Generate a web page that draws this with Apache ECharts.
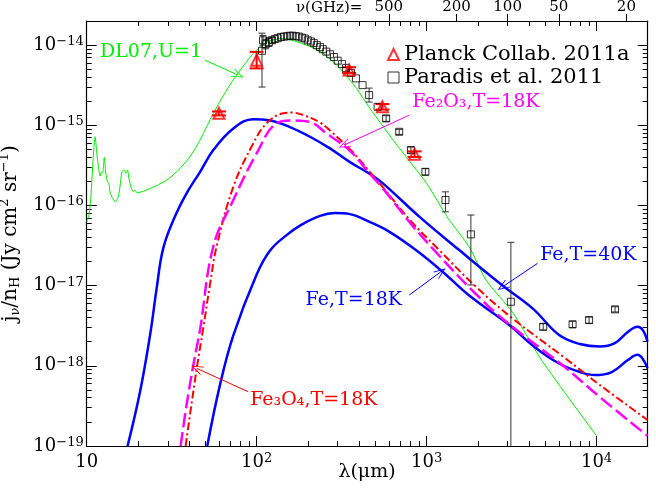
<!DOCTYPE html>
<html><head><meta charset="utf-8">
<script src="https://cdn.jsdelivr.net/npm/echarts@6/dist/echarts.min.js"></script>
<style>html,body{margin:0;padding:0;background:#fff}#c{width:656px;height:491px}</style>
</head><body><div id="c"></div>
<script>
// ---------------- data (λ in μm, jν/nH in Jy cm2 sr-1) ----------------
const lamDL07 = [10,10.3,10.6,10.9,11.2,11.5,11.8,12.0,12.2,12.4,12.7,12.9,13.2,13.5,13.7,14.1,14.7,15.3,15.7,16.1,16.6,17.0,17.4,17.7,18.2,18.8,19.2,19.8,23.6,29.6,35.4,40.5,46.4,55.6,66.6,76.2,95.5,114.5,141,197,247,309,387,464,636,798,1000,1340,1782,2241,3232,4745,10000];
const jDL07 = [6.27e-17,7.59e-17,1.35e-16,3.68e-16,7.2e-16,4.25e-16,2.76e-16,2.33e-16,2.61e-16,2.53e-16,3.98e-16,2.76e-16,2.01e-16,1.90e-16,1.48e-16,1.27e-16,1.11e-16,1.27e-16,1.71e-16,2.61e-16,2.76e-16,2.53e-16,2.76e-16,2.2e-16,1.71e-16,1.48e-16,1.56e-16,1.44e-16,1.63e-16,2.07e-16,2.90e-16,4.05e-16,6.53e-16,1.41e-15,2.75e-15,4.23e-15,7.87e-15,1.09e-14,1.21e-14,1.0e-14,7.87e-15,5.13e-15,2.88e-15,1.63e-15,6.53e-16,3.51e-16,1.89e-16,6.9e-17,3.03e-17,1.17e-17,4.52e-18,1.18e-18,1.34e-19];

const lamFe40 = [17.4,20.6,23.6,25.8,28.2,33.0,38.7,46.4,55.6,72.9,95.5,120,157,206,270,354,459,551,913,1556,2822,4203,6026,7980,10450,12810,15280,17420,18720,19950];
const jFe40 = [1.0e-19,4.75e-19,2.42e-18,9.25e-18,2.92e-17,7.23e-17,1.42e-16,2.61e-16,4.91e-16,9.14e-16,1.19e-15,1.15e-15,9.5e-16,7.2e-16,5.15e-16,3.47e-16,2.51e-16,1.9e-16,7.16e-17,2.78e-17,9.9e-18,5.21e-18,2.42e-18,1.87e-18,1.74e-18,1.92e-18,2.64e-18,3.07e-18,2.79e-18,2.0e-18];

const lamFe18 = [51.2,60.8,72.9,100,120,150,180,236,289,354,459,608,865,1242,1798,3063,4335,6026,7980,9770,12300,15280,17420,18720,19950];
const jFe18 = [1e-19,5.75e-19,2.4e-18,1.38e-17,2.75e-17,4.27e-17,5.62e-17,7.41e-17,8.04e-17,7.8e-17,6.27e-17,4.66e-17,2.78e-17,1.49e-17,7.41e-18,3.23e-18,1.71e-18,1.07e-18,8.37e-19,7.67e-19,8.37e-19,1.18e-18,1.37e-18,1.22e-18,9.3e-19];

const lamFe3O4 = [38.2,44.4,48.5,53.1,58.2,72.9,95.5,114.5,143,161,192,236,270,354,459,551,798,1186,1923,3206,6370,10450,19950];
const jFe3O4 = [1e-19,9.3e-19,2.94e-18,1.02e-17,3.12e-17,1.71e-16,5.94e-16,1.06e-15,1.41e-15,1.44e-15,1.32e-15,1.08e-15,8.6e-16,5.05e-16,2.69e-16,1.71e-16,6.58e-17,2.78e-17,1.0e-17,3.9e-18,1.30e-18,5.77e-19,2.11e-19];

const lamFe2O3 = [35.7,38.7,42.5,46.4,55.6,72.9,100,131,161,206,256,354,459,551,798,1135,1923,2955,6370,10450,19950];
const jFe2O3 = [1e-19,3.24e-19,1.05e-18,2.79e-18,3.08e-17,1.17e-16,4.47e-16,1.06e-15,1.15e-15,1.10e-15,8.0e-16,4.8e-16,2.54e-16,1.65e-16,6.12e-17,2.62e-17,8.1e-18,3.52e-18,1.0e-18,4.08e-19,1.34e-19];

const lamPlanck = [60,100,350,550,850];
const jPlanck = [1.41e-15,6.5e-15,4.9e-15,1.70e-15,4.37e-16];
const loPlanck = [1.33e-15,5.13e-15,4.5e-15,1.57e-15,4.03e-16];
const hiPlanck = [1.49e-15,8.24e-15,5.3e-15,1.84e-15,4.73e-16];

const lamParadis = [107.5,109,113,118,123,128,133,139,145,151,157,163,170,177,185,192,200,209,217,226,236,245,257,270,285,300,318,335,359,384,420,459,515,578,690,809,984,1291,1822,3133,4855,7228,9040,12850];
const jParadis = [8.5e-15,1.15e-14,1.03e-14,1.09e-14,1.15e-14,1.19e-14,1.22e-14,1.26e-14,1.28e-14,1.29e-14,1.31e-14,1.31e-14,1.29e-14,1.28e-14,1.24e-14,1.21e-14,1.15e-14,1.11e-14,1.06e-14,1.0e-14,9.45e-15,8.9e-15,8.3e-15,7.7e-15,7.1e-15,6.4e-15,5.8e-15,5.2e-15,4.5e-15,3.85e-15,3.17e-15,2.38e-15,1.70e-15,1.22e-15,8.3e-16,4.91e-16,2.63e-16,1.17e-16,4.36e-17,6.3e-18,3.07e-18,3.29e-18,3.72e-18,5.06e-18];
const loParadis = [3.0e-15,1.0e-14,9.0e-15,9.6e-15,1.06e-14,null,null,null,null,null,null,null,null,null,null,null,null,null,null,null,null,null,null,null,null,null,null,null,null,null,null,1.95e-15,null,1.12e-15,7.7e-16,4.5e-16,2.4e-16,8.34e-17,1.02e-17,1e-20,2.8e-18,3.0e-18,3.4e-18,4.7e-18];
const hiParadis = [1.41e-14,1.32e-14,1.18e-14,1.24e-14,1.25e-14,null,null,null,null,null,null,null,null,null,null,null,null,null,null,null,null,null,null,null,null,null,null,null,null,null,null,2.91e-15,null,1.32e-15,8.9e-16,5.35e-16,2.88e-16,1.48e-16,7.6e-17,3.47e-17,3.35e-18,3.6e-18,4.05e-18,5.45e-18];

const xMajorTicks = [10,100,1000,10000];
const yMajorTicks = [1e-19,1e-18,1e-17,1e-16,1e-15,1e-14];
const nuTicksGHz = [500,200,100,50,20];

// ---------------- helpers ----------------
const L = Math.log10;
const C_UM_GHZ = 299792.458; // λ(μm) = c / ν(GHz)
const pairs = (xs, ys) => xs.map((x, i) => [L(x), L(ys[i])]);
const errs = (xs, lo, hi) => xs.map((x, i) => lo[i] == null ? null : [L(x), L(lo[i]), L(hi[i])]).filter(d => d);

const X_MIN = 1, X_MAX = L(20000), Y_MIN = -19, Y_MAX = L(2e-14);
const minorVals = (lo, hi) => { const out = []; for (let e = lo; e <= hi; e++) for (let k = 2; k <= 9; k++) out.push(e + L(k)); return out; };
const xMinor = minorVals(1, 4).filter(v => v < X_MAX);
const yMinor = minorVals(-19, -14).filter(v => v < Y_MAX);
const xMajor = xMajorTicks.map(L);
const yMajor = yMajorTicks.map(L);
const nuPos = nuTicksGHz.map(n => L(C_UM_GHZ / n));
const nuLabel = {};
nuTicksGHz.forEach((n, i) => { nuLabel[nuPos[i].toFixed(4)] = String(n); });

const FONT = 'DejaVu Serif';
const richTick = {
  b: { fontFamily: FONT, fontSize: 18, color: '#000', lineHeight: 20 },
  s: { fontFamily: FONT, fontSize: 13, color: '#000', lineHeight: 13, verticalAlign: 'top' }
};
const fmtX = v => { const e = Math.round(v); return e === 1 ? '{b|10}' : '{b|10}{s|' + e + '}'; };
const fmtY = v => { const e = Math.round(v); return '{b|10}{s|\u2212' + (-e) + '}'; };

function baseAxis(extra) {
  return Object.assign({
    type: 'value', min: X_MIN, max: X_MAX, splitLine: { show: false },
    axisLine: { show: false }, axisLabel: { show: false }, axisTick: { show: false }
  }, extra);
}
const tickStyle = { color: '#000', width: 1 };

const xAxes = [
  baseAxis({ position: 'bottom', axisLine: { show: true, onZero: false, lineStyle: { color: '#000', width: 1.2 } },
    axisTick: { show: true, inside: true, length: 10, customValues: xMajor, lineStyle: tickStyle },
    axisLabel: { show: true, customValues: xMajor, formatter: fmtX, rich: richTick, margin: 6 } }),
  baseAxis({ position: 'bottom', axisTick: { show: true, inside: true, length: 5, customValues: xMinor, lineStyle: tickStyle } }),
  baseAxis({ position: 'top', axisLine: { show: true, onZero: false, lineStyle: { color: '#000', width: 1.2 } },
    axisTick: { show: true, inside: true, length: 10, customValues: xMajor, lineStyle: tickStyle } }),
  baseAxis({ position: 'top', axisTick: { show: true, inside: true, length: 5, customValues: xMinor, lineStyle: tickStyle } }),
  baseAxis({ position: 'top', axisTick: { show: true, inside: false, length: 7, customValues: nuPos, lineStyle: tickStyle },
    axisLabel: { show: true, customValues: nuPos, margin: 6,
      formatter: v => nuLabel[v.toFixed(4)] || '',
      fontFamily: FONT, fontSize: 15, color: '#000' } })
];

function yBase(extra) {
  return Object.assign({
    type: 'value', min: Y_MIN, max: Y_MAX, splitLine: { show: false },
    axisLine: { show: false }, axisLabel: { show: false }, axisTick: { show: false }
  }, extra);
}
const yAxes = [
  yBase({ position: 'left', axisLine: { show: true, onZero: false, lineStyle: { color: '#000', width: 1.2 } },
    axisTick: { show: true, inside: true, length: 10, customValues: yMajor, lineStyle: tickStyle },
    axisLabel: { show: true, customValues: yMajor, formatter: fmtY, rich: richTick, margin: 3 },
    name: '{t|j}{sb|ν}{t|/n}{sb|H}{t| (Jy cm}{sp|2}{t| sr}{sp|\u22121}{t|)}', nameLocation: 'middle', nameGap: 56, nameRotate: 90,
    nameTextStyle: { rich: {
      t: { fontFamily: FONT, fontSize: 20, color: '#000', lineHeight: 24 },
      sb: { fontFamily: FONT, fontSize: 13, color: '#000', lineHeight: 13, verticalAlign: 'bottom' },
      sp: { fontFamily: FONT, fontSize: 13, color: '#000', lineHeight: 13, verticalAlign: 'top' } } } }),
  yBase({ position: 'left', axisTick: { show: true, inside: true, length: 5, customValues: yMinor, lineStyle: tickStyle } }),
  yBase({ position: 'right', axisLine: { show: true, onZero: false, lineStyle: { color: '#000', width: 1.2 } },
    axisTick: { show: true, inside: true, length: 10, customValues: yMajor, lineStyle: tickStyle } }),
  yBase({ position: 'right', axisTick: { show: true, inside: true, length: 5, customValues: yMinor, lineStyle: tickStyle } })
];

const arrowHead = 'path://M0,0 L5,11 L4,11 L0,2.2 L-4,11 L-5,11 Z';
function arrow(from, to, color) {
  return { silent: true, symbol: ['none', arrowHead], symbolSize: [9, 12], animation: false,
    label: { show: false }, lineStyle: { color: color, width: 1, type: 'solid' },
    data: [[{ coord: [L(from[0]), L(from[1])] }, { coord: [L(to[0]), L(to[1])] }]] };
}
function note(at, text, color) {
  return { silent: true, symbol: 'circle', symbolSize: 1, itemStyle: { color: 'rgba(0,0,0,0)' }, animation: false,
    data: [{ coord: [L(at[0]), L(at[1])] }],
    label: { show: true, position: 'inside', formatter: text, fontFamily: FONT, fontSize: 19, color: color } };
}

function curve(name, xs, ys, color, width, type, sm) {
  return { name: name, type: 'line', data: pairs(xs, ys), showSymbol: false, symbol: 'none',
    smooth: sm, clip: true, animation: false,
    lineStyle: { color: color, width: width, type: type || 'solid' }, z: 3 };
}
function errSeries(data, color, cap, lw) {
  return { type: 'custom', data: data, clip: true, animation: false, silent: true, z: 4,
    renderItem: (params, api) => {
      const p1 = api.coord([api.value(0), api.value(1)]);
      const p2 = api.coord([api.value(0), api.value(2)]);
      const st = { stroke: color, lineWidth: lw };
      return { type: 'group', children: [
        { type: 'line', shape: { x1: p1[0], y1: p1[1], x2: p2[0], y2: p2[1] }, style: st },
        { type: 'line', shape: { x1: p1[0] - cap, y1: p1[1], x2: p1[0] + cap, y2: p1[1] }, style: st },
        { type: 'line', shape: { x1: p2[0] - cap, y1: p2[1], x2: p2[0] + cap, y2: p2[1] }, style: st }
      ] };
    } };
}

const dl07 = curve('DL07', lamDL07, jDL07, '#00ee00', 1, 'solid', 0.25);
dl07.markLine = arrow([49.7, 6.5e-15], [77.8, 4.23e-15], '#00ee00');
dl07.markPoint = note([23.9, 8.18e-15], 'DL07,U=1', '#00ee00');

const fe40 = curve('Fe40', lamFe40, jFe40, '#0000ff', 2.5, 'solid', 0.4);
fe40.markLine = arrow([4500, 1.90e-17], [2800, 9.69e-18], '#0000ff');
fe40.markPoint = note([8950, 2.41e-17], 'Fe,T=40K', '#0000ff');

const fe18 = curve('Fe18', lamFe18, jFe18, '#0000ff', 2.5, 'solid', 0.4);
fe18.markLine = arrow([791, 7.64e-18], [1213, 1.49e-17], '#0000ff');
fe18.markPoint = note([373, 6.6e-18], 'Fe,T=18K', '#0000ff');

const fe3o4 = curve('Fe3O4', lamFe3O4, jFe3O4, '#ff0000', 2, [8, 3, 2, 3], 0.4);
fe3o4.markLine = arrow([89.2, 4.75e-19], [44.4, 9.3e-19], '#ff0000');
fe3o4.markPoint = note([217, 3.75e-19], 'Fe\u2083O\u2084,T=18K', '#ff0000');

const fe2o3 = curve('Fe2O3', lamFe2O3, jFe2O3, '#ff00ff', 2.5, [14, 5], 0.4);
fe2o3.markLine = arrow([791, 1.34e-15], [327, 5.66e-16], '#ff00ff');
fe2o3.markPoint = note([1950, 1.96e-15], 'Fe\u2082O\u2083,T=18K', '#ff00ff');

const option = {
  animation: false,
  backgroundColor: '#fff',
  grid: { left: 86.7, right: 8.3, top: 21, bottom: 45, containLabel: false, outerBoundsMode: 'none' },
  xAxis: xAxes,
  yAxis: yAxes,
  legend: {
    orient: 'vertical', left: 382, top: 39, itemGap: 2, itemWidth: 11, itemHeight: 11,
    textStyle: { fontFamily: FONT, fontSize: 21, color: '#000' },
    data: [
      { name: 'Planck Collab. 2011a', icon: 'triangle', itemStyle: { color: 'rgba(0,0,0,0)', borderColor: '#ff0000', borderWidth: 2 } },
      { name: 'Paradis et al. 2011', icon: 'rect', itemStyle: { color: 'rgba(0,0,0,0)', borderColor: '#000', borderWidth: 1 } }
    ]
  },
  graphic: [
    { type: 'text', left: 296, top: 1, style: { text: 'ν(GHz)=', fontFamily: FONT, fontSize: 15, fill: '#000' } },
    { type: 'text', x: 367, y: 472, style: { text: 'λ(μm)', fontFamily: FONT, fontSize: 19, fill: '#000', align: 'center', verticalAlign: 'middle' } }
  ],
  series: [
    dl07, fe40, fe18, fe3o4, fe2o3,
    errSeries(errs(lamParadis, loParadis, hiParadis), '#333', 3.5, 1),
    { name: 'Paradis et al. 2011', type: 'scatter', data: pairs(lamParadis, jParadis), symbol: 'rect', symbolSize: 7,
      itemStyle: { color: 'rgba(0,0,0,0)', borderColor: '#000', borderWidth: 1 }, z: 5, animation: false },
    errSeries(errs(lamPlanck, loPlanck, hiPlanck), '#ff0000', 7, 2),
    { name: 'Planck Collab. 2011a', type: 'scatter', data: pairs(lamPlanck, jPlanck), symbol: 'triangle', symbolSize: 11,
      itemStyle: { color: 'rgba(0,0,0,0)', borderColor: '#ff0000', borderWidth: 2 }, z: 6, animation: false }
  ]
};

const chart = echarts.init(document.getElementById('c'), null, { renderer: 'canvas' });
chart.setOption(option);
</script>
</body></html>
